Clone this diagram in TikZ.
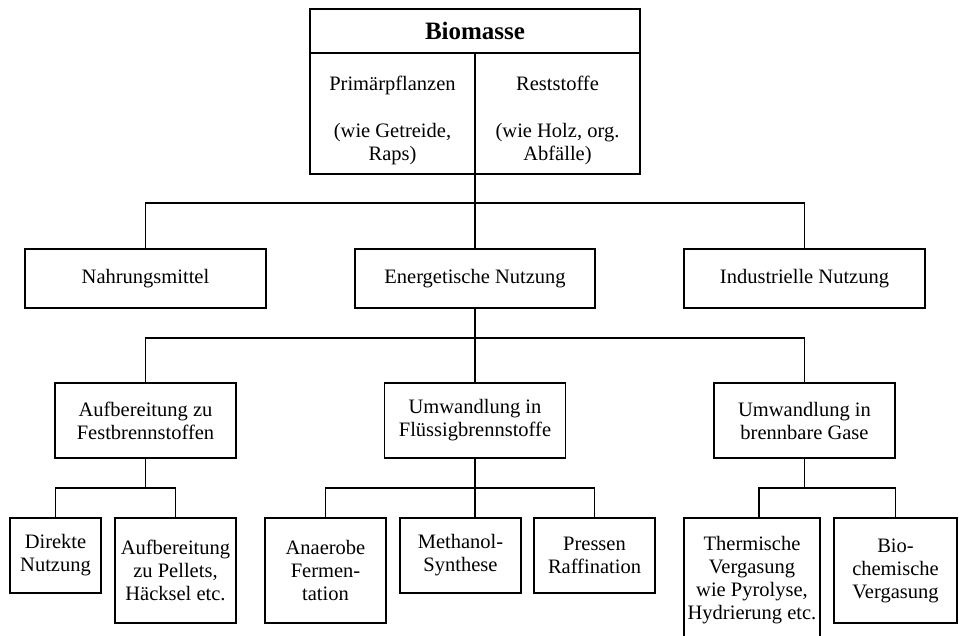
\documentclass[tikz,border=0pt]{standalone}
\usepackage{fontspec}
\setmainfont{Liberation Serif}
\begin{document}
\begin{tikzpicture}[x=1pt,y=-1pt,line width=1.2pt,
  every node/.style={draw,rectangle,align=center,inner sep=0pt,
    font=\fontsize{20.5}{23}\selectfont}]
 \useasboundingbox (0,0) rectangle (959,635);
 \clip (0,0) rectangle (959,635);
 % Biomasse
 \node[minimum width=330pt,minimum height=44pt,font=\fontsize{25}{27}\selectfont\bfseries] (Bio) at (475,31) {Biomasse};
 \node[minimum width=165pt,minimum height=121pt] (Prim) at (392.5,113.5) {\rule{0pt}{28pt}Primärpflanzen\\[24pt](wie Getreide,\\Raps)};
 \node[minimum width=165pt,minimum height=121pt] (Rest) at (557.5,113.5) {\rule{0pt}{28pt}Reststoffe\\[24pt](wie Holz, org.\\Abfälle)};
 % Nutzung
 \node[minimum width=241pt,minimum height=59pt] (Nahr) at (145.5,278.5) {Nahrungsmittel};
 \node[minimum width=240pt,minimum height=59pt] (Ener) at (475,278.5) {Energetische Nutzung};
 \node[minimum width=241pt,minimum height=59pt] (Indu) at (804.5,278.5) {Industrielle Nutzung};
 % Umwandlung
 \node[minimum width=181pt,minimum height=75pt] (Fest) at (145.5,420.5) {Aufbereitung zu\\Festbrennstoffen};
 \node[minimum width=181pt,minimum height=75pt] (Flue) at (475,420.5) {Umwandlung in\\Flüssigbrennstoffe};
 \node[minimum width=181pt,minimum height=75pt] (Gase) at (804.5,420.5) {Umwandlung in\\brennbare Gase};
 % Verfahren
 \node[minimum width=91pt,minimum height=75pt] (Dire) at (55.5,555.5) {Direkte\\Nutzung};
 \node[minimum width=121pt,minimum height=105pt] (Pell) at (175.5,570.5) {Aufbereitung\\zu Pellets,\\Häcksel etc.};
 \node[minimum width=121pt,minimum height=105pt] (Anae) at (325.5,570.5) {Anaerobe\\Fermen-\\tation};
 \node[minimum width=121pt,minimum height=75pt] (Meth) at (460.5,555.5) {Methanol-\\Synthese};
 \node[minimum width=121pt,minimum height=75pt] (Pres) at (594.5,555.5) {Pressen\\Raffination};
 \node[minimum width=136pt,minimum height=124pt] (Ther) at (752,580) {Thermische\\Vergasung\\wie Pyrolyse,\\Hydrierung etc.};
 \node[minimum width=123pt,minimum height=105pt] (Bioc) at (895.5,570.5) {Bio-\\chemische\\Vergasung};
 % Verbindungen
 \coordinate (b1) at (475,203);
 \coordinate (b2) at (475,338);
 \coordinate (b3) at (145.5,488);
 \coordinate (b4) at (475,488);
 \coordinate (b5) at (804.5,488);
 \coordinate (t5) at (759,518);
 \draw (Ener.north |- Prim.south) -- (Ener.north);
 \draw (Nahr.north) |- (b1) -| (Indu.north);
 \draw (Ener.south) -- (Flue.north);
 \draw (Fest.north) |- (b2) -| (Gase.north);
 \draw (Fest.south) -- (b3);
 \draw (Dire.north) |- (b3) -| (Pell.north);
 \draw (Flue.south) -- (Flue.south |- Meth.north);
 \draw (Anae.north) |- (b4) -| (Pres.north);
 \draw (Gase.south) -- (b5);
 \draw (t5) |- (b5) -| (Bioc.north);
\end{tikzpicture}
\end{document}
